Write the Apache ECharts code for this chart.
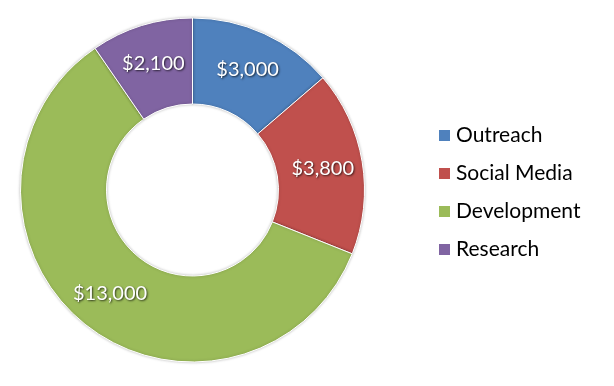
<!DOCTYPE html>
<html><head><meta charset="utf-8">
<script src="https://cdn.jsdelivr.net/npm/echarts@6/dist/echarts.min.js"></script>
<style>html,body{margin:0;padding:0;background:#fff}#c{width:614px;height:386px}</style>
</head><body><div id="c"></div>
<script>
const categories = ["Outreach", "Social Media", "Development", "Research"];
const values = [3000, 3800, 13000, 2100];
const colors = ["#4F81BD", "#C0504D", "#9BBB59", "#8064A2"];

const chart = echarts.init(document.getElementById('c'));
chart.setOption({
  animation: false,
  color: colors,
  legend: {
    orient: 'vertical',
    left: 432,
    top: 120,
    itemWidth: 13,
    itemHeight: 13,
    itemGap: 17,
    icon: 'rect',
    textStyle: { fontFamily: 'Lato', fontSize: 21, color: '#000', padding: [0, 0, 0, 0] },
    data: categories
  },
  series: [{
    type: 'pie',
    center: [192.5, 190],
    radius: [86, 172],
    startAngle: 90,
    clockwise: true,
    label: {
      show: true,
      position: 'inside',
      formatter: p => '$' + p.value.toLocaleString('en-US'),
      fontFamily: 'Lato',
      fontSize: 20,
      color: '#fff',
      textShadowColor: 'rgba(0,0,0,0.7)',
      textShadowBlur: 2,
      textShadowOffsetX: 1,
      textShadowOffsetY: 1
    },
    labelLine: { show: false },
    itemStyle: { borderColor: '#fff', borderWidth: 1, shadowColor: 'rgba(0,0,0,0.25)', shadowBlur: 3 },
    emphasis: { disabled: true },
    data: categories.map((c, i) => ({ name: c, value: values[i] }))
  }]
});
</script></body></html>
